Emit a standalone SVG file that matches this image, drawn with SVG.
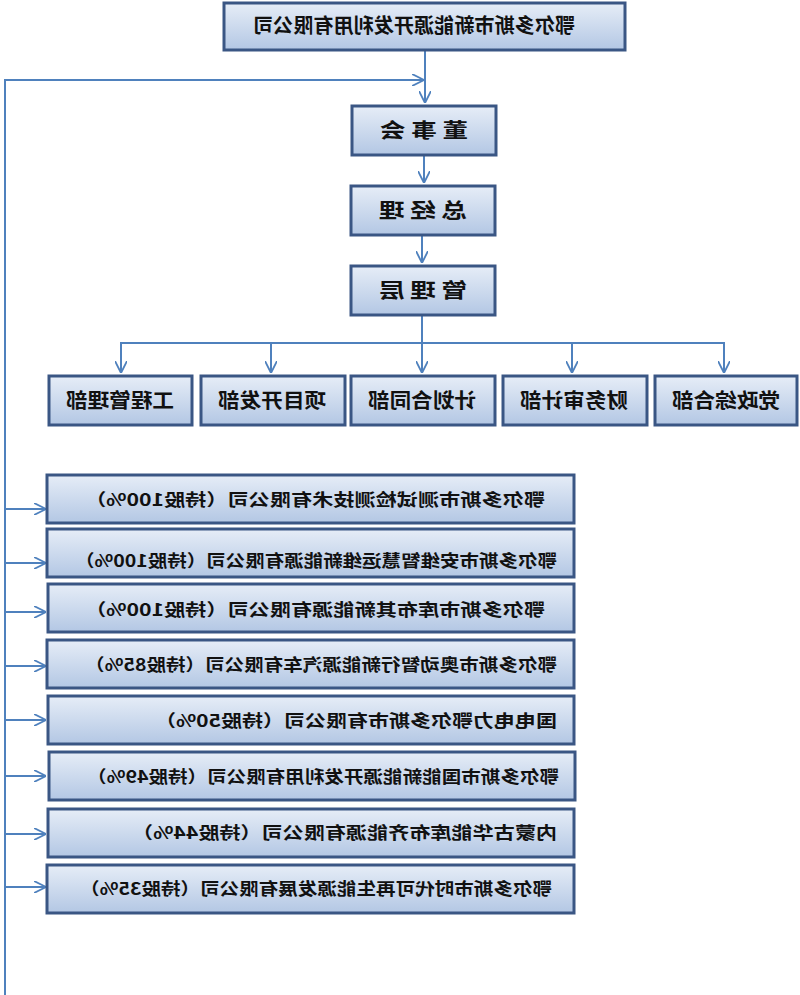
<svg xmlns="http://www.w3.org/2000/svg" width="800" height="995" viewBox="0 0 800 995">
<defs>
<linearGradient id="g" x1="0" y1="0" x2="0" y2="1"><stop offset="0" stop-color="#e6edf7"/><stop offset="1" stop-color="#b3c7e4"/></linearGradient>
<marker id="a" viewBox="0 0 10 10" refX="10" refY="5" markerWidth="12" markerHeight="12" markerUnits="userSpaceOnUse" orient="auto"><path d="M0,0 L10,5 L0,10" fill="none" stroke="#4f81bd" stroke-width="1.5"/></marker>
<style>
rect{fill:url(#g);stroke:#3a5684;stroke-width:3}
text{font-family:"Noto Sans CJK SC","Liberation Sans",sans-serif;fill:#111;font-weight:bold}
.c line,.c path{stroke:#4f81bd;stroke-width:2;fill:none}
.h{font-size:20px;text-anchor:middle}
.s{font-size:17px;text-anchor:start}
</style>
</defs>
<rect width="800" height="995" style="fill:#fff;stroke:none"/>
<g class="c">
<line x1="425" y1="50" x2="425" y2="103" marker-end="url(#a)"/>
<path d="M5,995 V80 H424" marker-end="url(#a)"/>
<line x1="424" y1="155" x2="424" y2="183" marker-end="url(#a)"/>
<line x1="422" y1="235" x2="422" y2="263" marker-end="url(#a)"/>
<line x1="422" y1="315" x2="422" y2="373" marker-end="url(#a)"/>
<path d="M121,373 V343 H724 V373" marker-end="url(#a)"/>
<line x1="121" y1="343" x2="121" y2="373" marker-end="url(#a)"/>
<line x1="271" y1="343" x2="271" y2="373" marker-end="url(#a)"/>
<line x1="572" y1="343" x2="572" y2="373" marker-end="url(#a)"/>
<line x1="5" y1="509" x2="46" y2="509" marker-end="url(#a)"/>
<line x1="5" y1="563" x2="46" y2="563" marker-end="url(#a)"/>
<line x1="5" y1="612" x2="46" y2="612" marker-end="url(#a)"/>
<line x1="5" y1="666" x2="46" y2="666" marker-end="url(#a)"/>
<line x1="5" y1="720" x2="46" y2="720" marker-end="url(#a)"/>
<line x1="5" y1="776" x2="46" y2="776" marker-end="url(#a)"/>
<line x1="5" y1="834" x2="46" y2="834" marker-end="url(#a)"/>
<line x1="5" y1="887" x2="46" y2="887" marker-end="url(#a)"/>
</g>
<g id="top"><rect x="224" y="3" width="401" height="47"/><text class="h" transform="translate(414,33) scale(-1,1)" textLength="322" lengthAdjust="spacingAndGlyphs">鄂尔多斯市新能源开发利用有限公司</text></g>
<g id="board"><rect x="352" y="106" width="144" height="49"/><text class="h" transform="translate(424,138) scale(-1,1)" textLength="88" lengthAdjust="spacingAndGlyphs">董 事 会</text></g>
<g id="gm"><rect x="351" y="186" width="144" height="49"/><text class="h" transform="translate(423,218) scale(-1,1)" textLength="88" lengthAdjust="spacingAndGlyphs">总 经 理</text></g>
<g id="mgmt"><rect x="351" y="266" width="144" height="49"/><text class="h" transform="translate(423,298) scale(-1,1)" textLength="88" lengthAdjust="spacingAndGlyphs">管 理 层</text></g>
<g id="d1"><rect x="49" y="376" width="143" height="49"/><text class="h" transform="translate(120,408) scale(-1,1)" textLength="108" lengthAdjust="spacingAndGlyphs">工程管理部</text></g>
<g id="d2"><rect x="201" y="376" width="144" height="49"/><text class="h" transform="translate(272,408) scale(-1,1)" textLength="108" lengthAdjust="spacingAndGlyphs">项目开发部</text></g>
<g id="d3"><rect x="351" y="376" width="144" height="49"/><text class="h" transform="translate(422,408) scale(-1,1)" textLength="108" lengthAdjust="spacingAndGlyphs">计划合同部</text></g>
<g id="d4"><rect x="503" y="376" width="144" height="49"/><text class="h" transform="translate(574,408) scale(-1,1)" textLength="108" lengthAdjust="spacingAndGlyphs">财务审计部</text></g>
<g id="d5"><rect x="655" y="376" width="142" height="49"/><text class="h" transform="translate(726,408) scale(-1,1)" textLength="108" lengthAdjust="spacingAndGlyphs">党政综合部</text></g>
<g id="c1"><rect x="47" y="475" width="527" height="48"/><text class="s" transform="translate(545,506) scale(-1,1)" textLength="460" lengthAdjust="spacingAndGlyphs">鄂尔多斯市测试检测技术有限公司（持股100%）</text></g>
<g id="c2"><rect x="47" y="529" width="527" height="48"/><text class="s" transform="translate(557,567) scale(-1,1)" textLength="482" lengthAdjust="spacingAndGlyphs">鄂尔多斯市安维智慧运维新能源有限公司（持股100%）</text></g>
<g id="c3"><rect x="48" y="584" width="526" height="48"/><text class="s" transform="translate(545,616) scale(-1,1)" textLength="460" lengthAdjust="spacingAndGlyphs">鄂尔多斯市库布其新能源有限公司（持股100%）</text></g>
<g id="c4"><rect x="47" y="640" width="527" height="48"/><text class="s" transform="translate(557,671) scale(-1,1)" textLength="472" lengthAdjust="spacingAndGlyphs">鄂尔多斯市奥动智行新能源汽车有限公司（持股85%）</text></g>
<g id="c5"><rect x="48" y="696" width="526" height="48"/><text class="s" transform="translate(557,727) scale(-1,1)" textLength="402" lengthAdjust="spacingAndGlyphs">国电电力鄂尔多斯市有限公司（持股50%）</text></g>
<g id="c6"><rect x="49" y="752" width="526" height="48"/><text class="s" transform="translate(559,783) scale(-1,1)" textLength="472" lengthAdjust="spacingAndGlyphs">鄂尔多斯市国能新能源开发利用有限公司（持股49%）</text></g>
<g id="c7"><rect x="48" y="809" width="526" height="48"/><text class="s" transform="translate(557,839) scale(-1,1)" textLength="425" lengthAdjust="spacingAndGlyphs">内蒙古华能库布齐能源有限公司（持股44%）</text></g>
<g id="c8"><rect x="47" y="865" width="527" height="48"/><text class="s" transform="translate(552,895) scale(-1,1)" textLength="472" lengthAdjust="spacingAndGlyphs">鄂尔多斯市时代可再生能源发展有限公司（持股35%）</text></g>
</svg>
